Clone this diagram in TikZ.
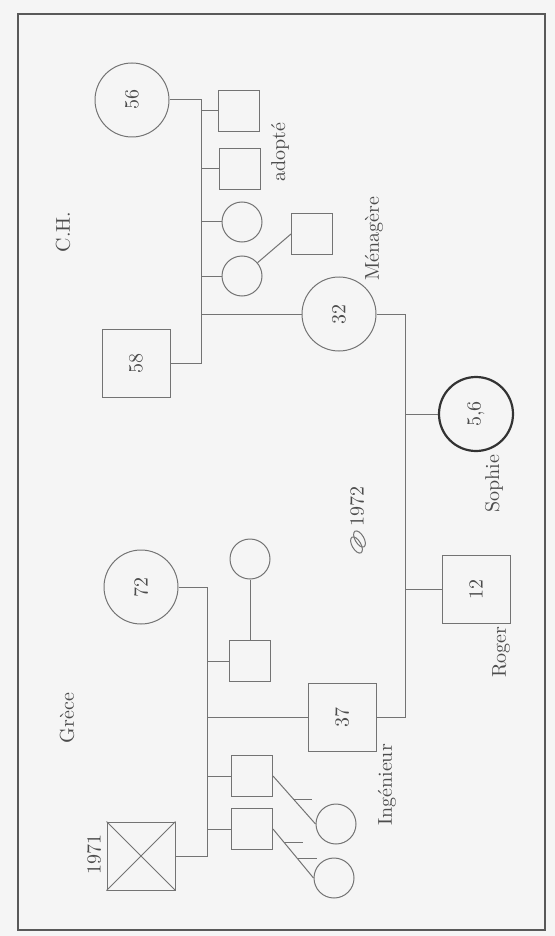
\documentclass[tikz,border=0pt]{standalone}
\usepackage{tikz}
\usetikzlibrary{calc}
\usepackage{graphicx}

\begin{document}
\begin{tikzpicture}[
    x=0.5pt, y=-0.5pt,
    person/.style      = {draw=black!55, line width=0.5pt, inner sep=0pt,
                          text=black!70, font=\normalsize},
    bigcircle/.style   = {person, circle, minimum size=37pt},
    smallcircle/.style = {person, circle, minimum size=20pt},
    bigsquare/.style   = {person, rectangle, minimum size=34pt},
    smallsquare/.style = {person, rectangle, minimum size=20.5pt},
    index/.style       = {bigcircle, draw=black!80, line width=1.1pt},
    link/.style        = {draw=black!55, line width=0.5pt},
    frame/.style       = {draw=black!65, line width=0.8pt},
    lbl/.style         = {font=\normalsize, text=black!70, inner sep=1pt},
]

%% ---- page and frame ----
\useasboundingbox[fill=black!4] (0,0) rectangle (555,936);
\draw[frame] (18,14) rectangle (545,930);

%% ==================================================================
%% C.H. SIDE
%% ==================================================================
\node[bigcircle]   (ch56)  at (132,100) {\rotatebox{90}{56}};
\node[bigsquare]   (ch58)  at (136,363) {\rotatebox{90}{58}};
\node[smallsquare] (chson1) at (239,111) {};
\node[smallsquare] (chson2) at (240,169) {};
\node[smallcircle] (chdau1) at (242,222) {};
\node[smallcircle] (chdau2) at (242,276) {};
\node[smallsquare] (chdau2h) at (312,234) {};
\node[bigcircle]   (ch32)  at (339,314) {\rotatebox{90}{32}};

\coordinate (chtop) at (201,100);
\coordinate (chbot) at (201,363);
\draw[link] (ch56) -- (chtop) -- (chbot) -- (ch58);
\draw[link] (chson1) -- (chson1 -| chtop);
\draw[link] (chson2) -- (chson2 -| chtop);
\draw[link] (chdau1) -- (chdau1 -| chtop);
\draw[link] (chdau2) -- (chdau2 -| chtop);
\draw[link] (ch32) -- (ch32 -| chtop);
\draw[link] (chdau2) -- (chdau2h.west);

%% ==================================================================
%% GRECE SIDE
%% ==================================================================
\node[bigcircle]   (gr72)   at (141,587) {\rotatebox{90}{72}};
\node[bigsquare]   (gr1971) at (141,856) {};
\node[smallsquare] (grson1) at (250,661) {};
\node[smallcircle] (grson1w) at (250,559) {};
\node[bigsquare]   (gr37)   at (342,717) {\rotatebox{90}{37}};
\node[smallsquare] (grson3) at (252,776) {};
\node[smallsquare] (grson4) at (252,829) {};
\node[smallcircle] (grw3)   at (336,824) {};
\node[smallcircle] (grw4)   at (334,878) {};

\draw[link] (gr1971.north west) -- (gr1971.south east)
            (gr1971.north east) -- (gr1971.south west);

\coordinate (grtop) at (207,587);
\coordinate (grbot) at (207,856);
\draw[link] (gr72) -- (grtop) -- (grbot) -- (gr1971);
\draw[link] (grson1) -- (grson1 -| grtop);
\draw[link] (gr37) -- (gr37 -| grtop);
\draw[link] (grson3) -- (grson3 -| grtop);
\draw[link] (grson4) -- (grson4 -| grtop);
\draw[link] (grson1w) -- (grson1);

%% diagonals with ticks
\draw[link] (grson3.east) -- (grw3.west);
\draw[link] (grson4.east) -- (grw4.west);
\draw[link] ($(grson3.east)!0.48!(grw3.west)$) -- ++(19,0);
\draw[link] ($(grson4.east)!0.27!(grw4.west)$) -- ++(19,0);
\draw[link] ($(grson4.east)!0.60!(grw4.west)$) -- ++(20,0);

%% ==================================================================
%% COUPLE AND CHILDREN
%% ==================================================================
\node[index]     (sophie) at (476,414) {\rotatebox{90}{5,6}};
\node[bigsquare] (roger)  at (476,589) {\rotatebox{90}{12}};

\coordinate (cptop) at (405,314);
\coordinate (cpbot) at (405,717);
\draw[link] (ch32) -- (cptop) -- (cpbot) -- (gr37);
\draw[link] (sophie) -- (sophie -| cptop);
\draw[link] (roger) -- (roger -| cptop);

%% wedding rings + year
\node[lbl] (wedyear) at (357,506) {\rotatebox{90}{1972}};
\coordinate (rings) at (358,542);
\draw[link] ($(rings)+(-1.5,3)$) ellipse [x radius=2.2pt, y radius=4.5pt, rotate=30];
\draw[link] ($(rings)+(1.5,-3)$) ellipse [x radius=2.2pt, y radius=4.5pt, rotate=30];

%% ==================================================================
%% LABELS
%% ==================================================================
\node[lbl] (chname)   at (63,232)  {\rotatebox{90}{C.H.}};
\node[lbl] (adopted)  at (280,152) {\rotatebox{90}{adopté}};
\node[lbl] (job32)    at (374,239) {\rotatebox{90}{Ménagère}};
\node[lbl] (sophname) at (494,484) {\rotatebox{90}{Sophie}};
\node[lbl] (rogname)  at (501,652) {\rotatebox{90}{Roger}};
\node[lbl] (job37)    at (387,785) {\rotatebox{90}{Ingénieur}};
\node[lbl] (grname)   at (67,718)  {\rotatebox{90}{Grèce}};
\node[lbl] (deathyr)  at (94,854)  {\rotatebox{90}{1971}};

\end{tikzpicture}
\end{document}
